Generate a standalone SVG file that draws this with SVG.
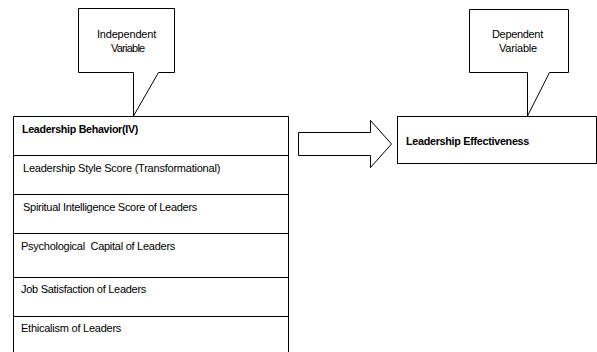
<svg xmlns="http://www.w3.org/2000/svg" width="597" height="352" viewBox="0 0 597 352">
<style>
.ln{fill:#fff;stroke:#000;stroke-width:1}
.t{font-family:"Liberation Sans",Arial,sans-serif;font-size:11px;fill:#000;letter-spacing:-0.3px}
.b{font-weight:bold}
.c{letter-spacing:-0.2px}
</style>
<rect width="597" height="352" fill="#fff"/>
<g id="connectors">
<path class="ln" d="M298.5,132.5 H370.5 V120.5 L391.5,144 L370.5,167.5 V155.5 H298.5 Z"/>
</g>
<g id="iv-callout">
<path class="ln" d="M78.5,8.5 H174.5 V72.5 H158.5 L133.5,116 V72.5 H78.5 Z"/>
<text class="t c" x="97" y="38" textLength="59">Independent</text>
<text class="t c" x="111" y="52" textLength="34">Variable</text>
</g>
<g id="dv-callout">
<path class="ln" d="M469.5,9.5 H568.5 V72.5 H549.5 L527.5,116 V72.5 H469.5 Z"/>
<text class="t c" x="492" y="38" textLength="51">Dependent</text>
<text class="t c" x="499" y="52" textLength="38">Variable</text>
</g>
<g id="iv-table">
<path fill="none" stroke="#000" d="M13.5,353 V116.5 H288.5 V353 M13,155.5 H289 M13,194.5 H289 M13,233.5 H289 M13,277.5 H289 M13,316.5 H289"/>
<text class="t b" x="22" y="133" textLength="116" lengthAdjust="spacingAndGlyphs">Leadership Behavior(IV)</text>
<text class="t" x="23" y="172" textLength="197">Leadership Style Score (Transformational)</text>
<text class="t" x="23" y="211" textLength="174">Spiritual Intelligence Score of Leaders</text>
<text class="t" x="21" y="250" textLength="154" xml:space="preserve">Psychological  Capital of Leaders</text>
<text class="t" x="21" y="293" textLength="125">Job Satisfaction of Leaders</text>
<text class="t" x="21" y="332" textLength="100">Ethicalism of Leaders</text>
</g>
<g id="dv-box">
<rect class="ln" x="397.5" y="116.5" width="199" height="47"/>
<text class="t b" x="406" y="145" textLength="123" lengthAdjust="spacingAndGlyphs">Leadership Effectiveness</text>
</g>
</svg>
